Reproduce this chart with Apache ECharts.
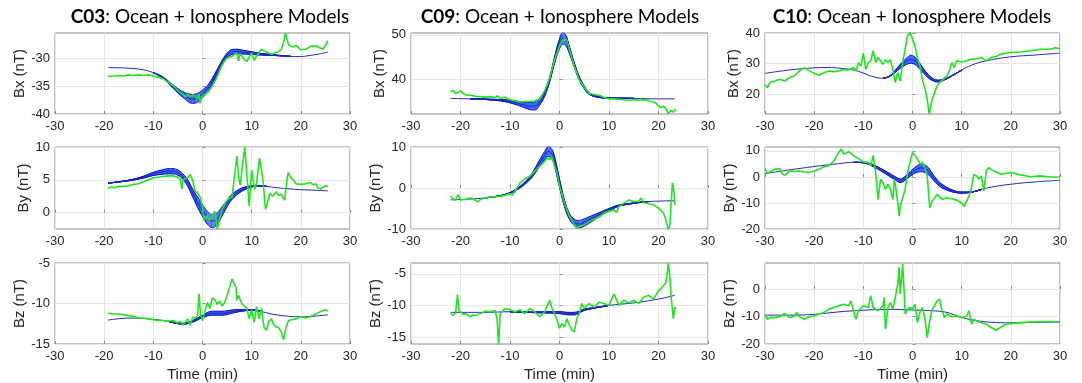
<!DOCTYPE html>
<html>
<head>
<meta charset="utf-8">
<script src="https://cdn.jsdelivr.net/npm/echarts@6/dist/echarts.min.js"></script>
<style>
  html, body { margin: 0; padding: 0; background: #fff; }
  #chart { width: 1082px; height: 383px; }
</style>
</head>
<body>
<div id="chart"></div>
<script>
// time axis shared by every panel
const timeTicks = [-30, -20, -10, 0, 10, 20, 30]

// ---- C03 ----
// observed field (green): [time, value]
const c03Bx = [[-19.2,-33.3],[-18,-33.2],[-17,-33.1],[-16,-33.2],[-15,-33.0],[-14,-33.1],[-13,-33.0],[-12,-33.1],[-11,-33.0],[-10,-33.2],[-9,-33.4],[-8,-33.7],[-7,-34.3],[-6,-34.9],[-5,-35.8],[-4,-36.5],[-3.5,-36.9],[-3,-36.6],[-2.5,-36.9],[-2,-36.6],[-1.5,-36.9],[-1,-37.3],[-0.7,-36.4],[-0.5,-38.1],[-0.2,-37.0],[0,-36.8],[0.5,-36.5],[1,-36.2],[1.5,-35.6],[2,-35.0],[2.5,-34.2],[3,-33.3],[3.5,-32.2],[4,-31.2],[4.5,-30.5],[5,-30.0],[5.5,-29.8],[6,-29.7],[6.5,-29.3],[7,-29.1],[7.3,-30.5],[7.6,-29.2],[8,-29.6],[8.5,-30.2],[9,-30.6],[9.5,-29.8],[10,-29.1],[10.5,-30.4],[11,-29.6],[11.5,-29.0],[12,-28.4],[12.5,-28.7],[13,-28.9],[14,-29.3],[15,-29.0],[15.5,-28.8],[16,-28.5],[16.5,-27.2],[16.9,-25.5],[17.2,-26.6],[17.5,-27.6],[18,-27.9],[18.5,-28.0],[19,-27.7],[20,-28.5],[21,-28.4],[22,-27.9],[23,-27.8],[24,-28.2],[24.5,-28.4],[25,-27.7],[25.5,-26.9]]
const c03By = [[-19.2,3.7],[-18.5,3.9],[-18,3.8],[-17,4.0],[-16,4.0],[-15,4.1],[-14,4.3],[-13,4.4],[-12,4.7],[-11,5.0],[-10,5.3],[-9,5.4],[-8,5.5],[-7,5.6],[-6,5.6],[-5,5.4],[-4.5,5.0],[-4.2,3.6],[-4,4.9],[-3.5,5.2],[-3,5.3],[-2.5,5.8],[-2,4.9],[-1.5,3.3],[-1,3.0],[-0.5,2.4],[0,0.9],[0.3,-1.2],[0.6,-0.5],[1,-0.7],[1.5,-1.1],[2,-0.4],[2.5,0.2],[3,-2.5],[3.5,-1.0],[4,0.4],[4.5,1.3],[5,1.9],[5.5,2.2],[6,2.4],[6.5,5.5],[7,8.6],[7.4,5.0],[7.7,4.2],[8.1,7.0],[8.6,10],[9,6.0],[9.5,1.0],[10,6.5],[10.6,3.5],[11,4.5],[11.6,8.3],[12.3,5.0],[12.8,0.5],[13.2,1.5],[13.7,2.9],[14.3,2.5],[15,3.2],[15.5,2.6],[16,2.8],[16.7,1.9],[17.1,4.5],[17.4,6.1],[18,5.3],[18.5,5.0],[19,4.4],[20,4.3],[21,4.4],[22,4.6],[22.5,4.2],[23,4.4],[23.5,3.7],[24,3.6],[25,4.1],[25.5,4.0]]
const c03Bz = [[-19.2,-11.2],[-18,-11.3],[-17,-11.3],[-16,-11.4],[-15,-11.5],[-14,-11.6],[-13,-11.8],[-12,-11.8],[-11,-11.9],[-10,-12.0],[-9,-12.1],[-8,-12.1],[-7,-12.2],[-6,-12.1],[-5,-12.4],[-4.5,-12.2],[-4,-12.7],[-3.5,-12.3],[-3,-11.9],[-2.5,-12.7],[-2,-11.7],[-1.5,-11.8],[-1,-11.5],[-0.7,-8.8],[-0.4,-11.4],[0,-12.1],[0.5,-10.9],[1,-9.9],[1.5,-10.6],[2,-9.3],[2.5,-9.5],[3,-10.1],[3.5,-9.7],[4,-10.3],[4.5,-9.9],[5,-9.0],[5.5,-8.0],[6,-7.0],[6.4,-6.8],[6.8,-8.0],[7,-9.6],[7.3,-9.0],[8,-10.0],[9,-10.6],[9.5,-11.9],[10,-10.8],[10.5,-12.3],[11,-10.4],[11.5,-11.9],[12,-10.6],[12.5,-12.9],[13,-13.3],[13.5,-12.2],[14,-11.9],[14.5,-12.6],[15,-12.9],[15.5,-13.0],[16,-13.5],[16.5,-14.5],[17,-12.9],[17.5,-12.1],[18,-12.0],[19,-11.9],[20,-11.6],[21,-11.8],[22,-11.6],[23,-11.3],[24,-11.0],[25,-10.8],[25.5,-10.9]]
// model ensemble (blue): [time, centre, half spread]
const c03BxModel = [[-19.2,-31.7,0],[-15,-31.8,0],[-12,-32.1,0],[-10,-32.6,0],[-8,-33.5,0.1],[-6,-35.1,0.3],[-4,-36.5,0.5],[-2,-37.3,0.8],[-1,-37.1,0.8],[0,-36.4,0.7],[1,-35.5,0.6],[2,-34.1,0.5],[3,-32.4,0.4],[4,-30.8,0.4],[5,-29.5,0.4],[6,-28.9,0.45],[7,-28.8,0.4],[8,-28.9,0.35],[10,-29.1,0.25],[12,-29.3,0.15],[15,-29.5,0.05],[18,-29.7,0],[20,-29.7,0],[22,-29.5,0],[24,-29.2,0],[25.5,-28.9,0]]
const c03ByModel = [[-19.2,4.5,0],[-15,4.9,0.05],[-12,5.4,0.15],[-10,5.9,0.25],[-8,6.2,0.35],[-7,6.3,0.4],[-6,6.3,0.4],[-5,6.1,0.4],[-4,5.5,0.4],[-3,4.5,0.5],[-2,3.0,0.6],[-1,1.6,0.8],[0,0.3,0.9],[1,-0.8,1.0],[2,-1.3,1.0],[3,-0.9,0.9],[4,0.2,0.7],[5,1.4,0.5],[6,2.4,0.4],[8,3.5,0.25],[10,4.0,0.1],[11,4.1,0.05],[13,4.0,0],[15,3.8,0],[18,3.6,0],[20,3.5,0],[23,3.4,0],[25.5,3.3,0]]
const c03BzModel = [[-19.2,-12.05,0],[-15,-11.8,0],[-10,-11.95,0],[-7,-12.2,0],[-4,-12.5,0.05],[-2,-12.2,0.1],[0,-11.6,0.15],[2,-11.2,0.25],[4,-11.2,0.25],[6,-11.0,0.2],[8,-10.85,0.1],[10,-10.8,0.05],[12,-11.0,0],[15,-11.4,0],[20,-11.65,0],[23,-11.55,0],[25.5,-11.4,0]]

// ---- C09 ----
const c09Bx = [[-22,37.2],[-21.5,37.5],[-21,36.8],[-20.5,37.0],[-20,37.4],[-19.5,36.8],[-19,36.5],[-18,36.4],[-17,36.2],[-16,36.1],[-15,36.0],[-14,36.1],[-13,35.9],[-12.5,36.3],[-12,35.6],[-11,36.0],[-10,35.4],[-9,35.2],[-8,34.9],[-7,35.0],[-6,35.0],[-5,35.1],[-4,35.6],[-3,37.4],[-2,40.2],[-1,44.4],[0,47.5],[0.5,48.6],[1,49.0],[1.5,48.8],[2,46.7],[3,42.9],[4,39.8],[5,38.2],[6,36.8],[7,36.6],[8,36.4],[9,35.9],[10,35.6],[11,35.6],[12,35.5],[13,35.4],[14,35.3],[15,35.4],[16,35.3],[17,35.4],[18,35.2],[19,34.9],[19.5,34.6],[20,34.0],[20.5,33.6],[21,34.0],[21.5,33.3],[22,32.3],[22.5,33.0],[23,32.6],[23.5,33.4]]
const c09By = [[-22,-2.0],[-21.5,-2.7],[-21,-3.0],[-20.5,-1.6],[-20,-2.9],[-19,-2.8],[-18,-2.4],[-17,-3.0],[-16.5,-3.4],[-16,-2.8],[-15,-2.4],[-14,-2.2],[-13,-2.1],[-12,-2.0],[-11,-1.8],[-10,-1.4],[-9.5,-1.7],[-9,-0.8],[-8,1.2],[-7,2.2],[-6,2.9],[-5,4.1],[-4,5.3],[-3,6.5],[-2.5,7.3],[-2,6.9],[-1.5,7.6],[-1,5.3],[-0.5,3.7],[0,0.4],[0.5,-1.6],[1,-3.7],[2,-6.9],[3,-9.0],[3.5,-9.8],[4,-9.4],[5,-9.0],[6,-8.2],[7,-7.6],[8,-7.1],[9,-6.1],[10,-5.7],[11,-5.3],[11.5,-6.0],[12,-4.5],[13,-3.7],[14,-2.9],[15,-3.3],[16,-3.3],[16.5,-2.4],[17,-3.6],[18,-3.8],[19,-4.1],[20,-4.9],[21,-6.1],[21.5,-7.8],[22,-10.3],[22.3,-9.0],[22.8,1.2],[23,0.4],[23.3,-3.8],[23.5,-4.1]]
const c09Bz = [[-22,-11.2],[-21.5,-11.6],[-21,-11.2],[-20.6,-8.3],[-20.3,-10.8],[-20,-11.0],[-19.5,-11.4],[-19,-11.3],[-18,-11.8],[-17.5,-11.5],[-17,-11.6],[-16,-11.3],[-15,-10.9],[-14,-11.0],[-13,-10.8],[-12.6,-12.3],[-12.3,-16.3],[-12,-11.3],[-11,-10.5],[-10,-10.7],[-9,-11.0],[-8,-10.7],[-7,-11.3],[-6,-10.5],[-5,-11.0],[-4,-11.8],[-3,-11.0],[-2,-9.2],[-1.5,-10.5],[-1,-11.3],[-0.5,-12.3],[0,-13.6],[0.5,-12.9],[1,-13.4],[1.5,-12.1],[2,-13.1],[2.5,-13.9],[3,-14.2],[3.5,-12.0],[4,-11.3],[4.5,-9.7],[5,-10.5],[6,-9.7],[7,-10.3],[8,-9.5],[9,-9.7],[10,-10.0],[11,-8.2],[12,-10.0],[13,-9.2],[14,-9.6],[15,-9.2],[16,-9.7],[17,-8.7],[18,-8.4],[19,-9.0],[20,-7.7],[21,-6.9],[21.5,-6.4],[22,-3.4],[22.3,-5.6],[22.6,-9.0],[23,-12.1],[23.3,-10.3],[23.5,-10.5]]
const c09BxModel = [[-22,35.7,0],[-18,35.6,0],[-15,35.5,0.05],[-12,35.3,0.15],[-10,35.0,0.3],[-8,34.5,0.5],[-6,34.0,0.8],[-5,34.0,0.9],[-4,35.0,0.8],[-3,36.8,0.6],[-2,39.9,0.5],[-1,44.3,0.7],[0,48.0,1.1],[0.7,49.2,1.3],[1.3,48.7,1.2],[2,46.6,0.8],[3,43.2,0.5],[4,40.2,0.4],[5,38.2,0.3],[6,36.8,0.2],[8,36.0,0.1],[10,35.8,0.05],[15,35.7,0],[20,35.6,0],[23.3,35.6,0]]
const c09ByModel = [[-22,-2.9,0],[-18,-2.7,0],[-15,-2.4,0],[-12,-1.9,0.05],[-10,-1.2,0.1],[-8,0.2,0.2],[-6,2.4,0.4],[-5,4.1,0.6],[-4,6.1,0.8],[-3,7.9,1.0],[-2.3,8.9,1.2],[-1.5,8.2,1.2],[-1,6.5,1.2],[0,1.2,1.0],[1,-3.7,0.8],[2,-6.9,0.7],[3,-8.4,0.8],[4,-8.8,0.9],[5,-8.4,0.9],[6,-7.8,0.8],[8,-6.5,0.5],[10,-5.3,0.3],[12,-4.3,0.15],[15,-3.7,0.05],[18,-3.3,0],[20,-3.2,0],[23.3,-3.1,0]]
const c09BzModel = [[-22,-11.1,0],[-15,-11.1,0],[-10,-11.0,0],[-5,-11.1,0.05],[-2,-11.1,0.1],[0,-11.15,0.15],[2,-11.3,0.2],[3,-11.3,0.2],[4,-11.05,0.15],[5,-10.7,0.1],[7,-10.4,0.05],[10,-10.0,0],[15,-9.6,0],[20,-9.0,0],[23.3,-8.4,0]]

// ---- C10 ----
const c10Bx = [[-30,23.2],[-29.5,22.1],[-29,23.8],[-28,24.3],[-27,24.9],[-26,24.3],[-25,25.4],[-24,26.0],[-23,27.6],[-22,28.7],[-21,27.6],[-20,26.8],[-19,26.2],[-18,27.0],[-17,27.6],[-16,27.3],[-15,27.6],[-14,28.1],[-13,27.9],[-12,28.7],[-11.5,27.6],[-11,30.3],[-10.5,29.2],[-10,33.3],[-9.5,28.1],[-9,30.3],[-8.5,30.9],[-8,34.2],[-7.5,30.3],[-7,32.0],[-6,29.8],[-5.5,31.2],[-5,30.5],[-4.5,31.2],[-4,28.1],[-3.5,23.8],[-3,27.0],[-2.5,24.3],[-2,30.3],[-1.5,34.7],[-1,39.1],[-0.5,40.2],[0,38.0],[0.5,35.8],[1,32.0],[1.5,29.2],[2,24.9],[2.5,22.1],[3,18.3],[3.4,13.4],[4,18.3],[4.5,20.5],[5,22.7],[5.5,23.8],[6,24.5],[7,26.0],[7.5,27.6],[8,30.3],[8.5,28.7],[9,30.9],[10,30.5],[11,30.9],[12,31.4],[13,31.6],[14,32.0],[15,30.9],[16,32.0],[17,32.3],[18,33.1],[19,33.4],[20,33.6],[22,33.8],[24,34.2],[26,34.7],[28,34.7],[29,35.2],[30,34.9]]
const c10By = [[-30,3.2],[-29.5,1.4],[-29,1.9],[-28,3.0],[-27,3.2],[-26.5,1.2],[-26,0.6],[-25,2.3],[-24,2.1],[-23,2.3],[-22,1.9],[-21,1.7],[-20,2.3],[-19,3.0],[-18,3.9],[-17,4.3],[-16,6.2],[-15,9.4],[-14.5,10.7],[-14,8.8],[-13,9.7],[-12,8.2],[-11,7.1],[-10,5.8],[-9,5.6],[-8.5,4.3],[-8,8.2],[-7.5,1.7],[-7,-8.7],[-6.5,-0.9],[-6,-2.2],[-5.5,-4.8],[-5,-2.8],[-4.5,-4.8],[-4,-8.7],[-3.7,-0.9],[-3.5,-2.8],[-3,-10.0],[-2.7,-15.1],[-2.5,-11.3],[-2,-8.0],[-1.5,-4.8],[-1,1.7],[-0.5,5.6],[0,9.4],[0.5,8.2],[1,7.1],[1.5,4.9],[2,5.6],[2.5,3.6],[3,0.4],[3.5,-11.9],[4,-9.3],[5,-6.7],[6,-8.7],[7,-8.0],[8,-8.4],[9,-8.9],[10,-10.0],[10.5,-11.3],[11,-9.3],[11.5,-7.4],[12,-4.1],[12.5,1.0],[13,0.4],[13.5,-0.9],[14,0.4],[14.5,-5.4],[15,2.3],[15.5,3.6],[16,2.8],[17,1.9],[18,1.0],[19,1.4],[20,1.7],[22,0.8],[24,0.1],[26,0.4],[28,0],[30,0]]
const c10Bz = [[-30,-9.1],[-29.5,-11.0],[-29,-10.4],[-28,-10.4],[-27,-10.1],[-26,-8.9],[-25,-10.4],[-24,-9.8],[-23.5,-8.5],[-23,-10.1],[-22,-11.0],[-21,-10.1],[-20,-9.8],[-19,-9.1],[-18,-8.5],[-17,-7.3],[-16,-6.7],[-15,-6.1],[-14,-5.5],[-13,-6.1],[-12.5,-4.3],[-12,-7.9],[-11.5,-11.0],[-11,-7.9],[-10,-6.1],[-9,-6.7],[-8.5,-2.4],[-8,-6.7],[-7,-7.9],[-6,-6.1],[-5.8,-3.0],[-5.5,-14.6],[-5,-6.7],[-4.5,-4.9],[-4,-7.3],[-3.5,-3.0],[-3,1.8],[-2.7,7.9],[-2.5,-1.8],[-2.2,4.3],[-2,9.1],[-1.7,-0.6],[-1.5,-9.1],[-1,-7.3],[-0.5,-6.7],[0,-7.3],[0.5,-5.5],[1,-12.2],[1.5,-8.5],[2,-6.7],[2.5,-10.4],[3,-17.7],[3.5,-11.6],[4,-7.3],[4.5,-6.1],[5,-4.3],[5.5,-3.7],[6,-7.9],[6.5,-10.4],[7,-9.1],[8,-10.1],[9,-9.8],[10,-10.4],[11,-9.8],[11.5,-7.9],[12,-12.8],[12.5,-11.0],[13,-11.6],[14,-12.2],[15,-12.8],[16,-14.0],[17,-15.0],[18,-13.8],[19,-12.8],[20,-12.6],[22,-12.2],[24,-12.0],[26,-11.8],[28,-11.8],[30,-12.0]]
const c10BxModel = [[-30,26.8,0],[-25,27.9,0],[-20,28.6,0],[-17,28.7,0],[-15,28.5,0],[-12,27.9,0],[-10,26.9,0],[-8,25.7,0],[-6,25.2,0],[-5,25.6,0.05],[-4,26.7,0.2],[-3,28.3,0.5],[-2,29.8,0.8],[-1,31.0,1.1],[-0.3,31.4,1.3],[0.5,30.9,1.2],[1,30.1,1.1],[2,28.1,0.8],[3,26.2,0.6],[4,24.9,0.4],[5,24.3,0.3],[6,24.5,0.2],[8,26.0,0.05],[10,27.9,0],[12,29.5,0],[15,30.9,0],[20,32.2,0],[25,32.8,0],[30,33.4,0]]
const c10ByModel = [[-30,1.3,0],[-25,2.7,0],[-20,4.0,0],[-15,5.1,0],[-12,5.6,0],[-10,5.5,0.1],[-8,4.3,0.3],[-6,2.3,0.5],[-4,0,0.6],[-3,-1.1,0.7],[-2.5,-1.5,0.7],[-2,-1.2,0.7],[-1,0.3,0.8],[0,1.9,1.0],[1,3.1,1.3],[1.7,3.5,1.5],[3,2.6,1.4],[4,0.4,1.1],[5,-1.9,0.9],[6,-3.5,0.7],[8,-5.3,0.4],[10,-6.0,0.2],[12,-5.8,0.05],[14,-4.8,0],[16,-3.9,0],[20,-2.8,0],[25,-1.9,0],[30,-1.3,0]]
const c10BzModel = [[-30,-9.5,0],[-25,-9.5,0],[-20,-9.2,0],[-15,-8.3,0],[-10,-7.7,0],[-5,-7.4,0],[0,-7.6,0],[3,-7.8,0],[5,-8.0,0],[7,-8.5,0],[9,-9.7,0],[11,-10.8,0],[13,-11.5,0],[16,-12.1,0],[20,-12.3,0],[25,-12.1,0],[30,-12.0,0]]

// y tick labels per panel
const c03BxTicks = [-40, -35, -30]
const c03ByTicks = [0, 5, 10]
const c03BzTicks = [-15, -10, -5]
const c09BxTicks = [40, 50]
const c09ByTicks = [-10, 0, 10]
const c09BzTicks = [-15, -10, -5]
const c10BxTicks = [20, 30, 40]
const c10ByTicks = [-20, -10, 0, 10]
const c10BzTicks = [-20, -10, 0]

const stations = ["C03", "C09", "C10"]

// ensemble members drawn as offsets of the half spread
const memberOffsets = [-0.85, -0.7, -0.55, -0.4, -0.25, -0.1, 0.05, 0.2, 0.35, 0.5, 0.65, 0.8]
const edgeOffsets = [-1, 1]

// layout (pixels)
const colLeft = [55, 411, 765]
const colWidth = [295, 297, 295]
const rowTop = [33, 147, 263]
const rowHeight = [81, 82, 81]
const titleX = [210, 560, 912]

const axisColor = "#8a8a8a"
const textColor = "#262626"
const greenColor = "#1ee61e"
const blueEdge = "#1010b8"
const blueInner = "#2d60ff"
const blueThin = "#2626b0"

const panels = [
  { col: 0, row: 0, label: "Bx (nT)", green: c03Bx, model: c03BxModel, ticks: c03BxTicks, range: [-40, -25.5], gap: 16 },
  { col: 0, row: 1, label: "By (nT)", green: c03By, model: c03ByModel, ticks: c03ByTicks, range: [-2.5, 10], gap: 14 },
  { col: 0, row: 2, label: "Bz (nT)", green: c03Bz, model: c03BzModel, ticks: c03BzTicks, range: [-15, -5], gap: 16 },
  { col: 1, row: 0, label: "Bx (nT)", green: c09Bx, model: c09BxModel, ticks: c09BxTicks, range: [32.2, 50.4], gap: 13 },
  { col: 1, row: 1, label: "By (nT)", green: c09By, model: c09ByModel, ticks: c09ByTicks, range: [-10, 10], gap: 20 },
  { col: 1, row: 2, label: "Bz (nT)", green: c09Bz, model: c09BzModel, ticks: c09BzTicks, range: [-16.1, -3.3], gap: 20 },
  { col: 2, row: 0, label: "Bx (nT)", green: c10Bx, model: c10BxModel, ticks: c10BxTicks, range: [13.5, 40], gap: 16 },
  { col: 2, row: 1, label: "By (nT)", green: c10By, model: c10ByModel, ticks: c10ByTicks, range: [-20, 11.5], gap: 21 },
  { col: 2, row: 2, label: "Bz (nT)", green: c10Bz, model: c10BzModel, ticks: c10BzTicks, range: [-20, 9.5], gap: 21 },
]

const grid = []
const xAxis = []
const yAxis = []
const series = []

// one ensemble member; it is left out where the spread is zero on both sides
function memberLine(i, model, k, color, width) {
  const data = model.map((d, j) => {
    const spread = d[2] > 0 || (model[j - 1] && model[j - 1][2] > 0) || (model[j + 1] && model[j + 1][2] > 0)
    return spread ? [d[0], d[1] + k * d[2]] : [d[0], null]
  })
  return {
    type: "line", xAxisIndex: i, yAxisIndex: i, data,
    smooth: 0.4, showSymbol: false, symbol: "none", connectNulls: false,
    lineStyle: { color: color, width: width },
    z: 2,
  }
}

panels.forEach((p, i) => {
  grid.push({
    left: colLeft[p.col], top: rowTop[p.row],
    width: colWidth[p.col], height: rowHeight[p.row],
    show: true, borderColor: axisColor, borderWidth: 1,
  })
  xAxis.push({
    gridIndex: i, type: "value", min: -30, max: 30, interval: 10,
    name: p.row === 2 ? "Time (min)" : "",
    nameLocation: "middle", nameGap: 23,
    nameTextStyle: { color: textColor, fontSize: 15, fontFamily: "Liberation Sans" },
    axisLine: { show: false },
    axisTick: { inside: true, length: 3, lineStyle: { color: axisColor } },
    axisLabel: { color: textColor, fontSize: 13, margin: 6, fontFamily: "Liberation Sans",
      customValues: timeTicks },
    splitLine: { show: true, lineStyle: { color: "#e6e6e6", width: 1 } },
  })
  yAxis.push({
    gridIndex: i, type: "value", min: p.range[0], max: p.range[1],
    name: p.label, nameLocation: "middle", nameGap: p.gap, nameRotate: 90,
    nameTextStyle: { color: textColor, fontSize: 15, fontFamily: "Liberation Sans" },
    axisLine: { show: false },
    axisTick: { inside: true, length: 3, customValues: p.ticks, lineStyle: { color: axisColor } },
    axisLabel: { color: textColor, fontSize: 13, margin: 5, fontFamily: "Liberation Sans",
      customValues: p.ticks },
    splitLine: { show: true, lineStyle: { color: "#e6e6e6", width: 1 } },
  })

  // model ensemble: bright inner members, dark outer members, thin centre line
  memberOffsets.forEach(k => series.push(memberLine(i, p.model, k, blueInner, 1)))
  edgeOffsets.forEach(k => series.push(memberLine(i, p.model, k, blueEdge, 1)))
  series.push({
    type: "line", xAxisIndex: i, yAxisIndex: i,
    data: p.model.map(d => [d[0], d[1]]),
    smooth: 0.4, showSymbol: false, symbol: "none",
    lineStyle: { color: blueThin, width: 1 },
    z: 2,
  })

  series.push({
    type: "line", xAxisIndex: i, yAxisIndex: i,
    data: p.green,
    showSymbol: false, symbol: "none",
    lineStyle: { color: greenColor, width: 1.6 },
    z: 3,
  })
})

const titles = stations.map((s, c) => ({
  type: "text", x: titleX[c], y: 17,
  style: {
    text: "{b|" + s + "}: Ocean + Ionosphere Models",
    align: "center", verticalAlign: "middle",
    fill: "#000", font: "19px Lato",
    rich: { b: { fontWeight: "bold", fontSize: 19, fontFamily: "Lato", fill: "#000" } },
  },
}))

const chart = echarts.init(document.getElementById("chart"), null, { renderer: "canvas" })
chart.setOption({
  animation: false,
  backgroundColor: "#fff",
  grid, xAxis, yAxis, series,
  graphic: titles,
})
</script>
</body>
</html>
